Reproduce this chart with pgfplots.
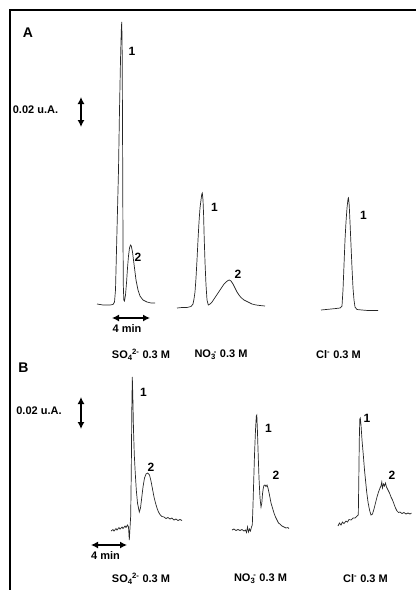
\documentclass[border=0pt]{standalone}
\usepackage{fontspec}
\setmainfont{Liberation Sans}
\usepackage{pgfplots}
\pgfplotsset{compat=1.18}
\usetikzlibrary{arrows.meta}
\begin{document}
\begin{tikzpicture}
\begin{axis}[width=416pt,height=590pt,scale only axis,
  xmin=0,xmax=416,ymin=0,ymax=590,y dir=reverse,hide axis,clip=false]
% frame
\addplot[black,line width=1.4pt] coordinates {(10,590)(10,10)(416,10)};
\pgfplotsset{every axis plot/.append style={}}
% ---------- A: SO4
\addplot[black!85,line width=0.7pt] coordinates {
(97,304)(103,305)(110,305)(113,304.5)(114.5,302)(115.5,290)(116.5,250)(117.5,210)(118.5,170)(119.5,110)(120.5,60)(121.3,30)(121.7,22)(122.1,40)(122.5,120)(122.9,220)(123.3,285)(123.8,300)(124.5,301)(125.5,295)(126.5,283)(127.5,268)(128.5,256)(129.5,248)(130.5,245)(131.3,246)(132.5,252)(134,264)(136,280)(138,290)(140,296)(143,300)(147,302)(151,303)(155,303)};
% ---------- A: NO3
\addplot[black!85,line width=0.7pt] coordinates {
(177,308)(182,307.5)(187,307.5)(191,306.5)(193,304)(194,299)(195,292)(196,278)(197,260)(198,240)(199,222)(200,208)(201,200)(201.8,194)(202.3,193)(203,200)(203.6,215)(204.2,238)(205,262)(206,285)(207,300)(208.3,305)(210,304)(212,302)(214,299)(216,296)(218,293)(220,290)(222,287)(224,284)(226,282)(228,280.5)(229.3,280)(231,281)(233,284)(235,288)(237,292)(239,295)(241,297.5)(244,300)(248,302)(252,304)(256,305)(260,305.5)(265,306)};
% ---------- A: Cl
\addplot[black!85,line width=0.7pt] coordinates {
(321,310)(326,309.5)(331,309)(336,308.5)(340,308)(342,306)(343,290)(344,265)(345,240)(346,222)(347,208)(348,199)(348.5,198)(349.2,205)(350,222)(351,245)(352,268)(353,288)(354,300)(355,307)(357,309.5)(362,310)(368,310.5)(374,310.5)(378,310.5)};
% ---------- B: SO4
\addplot[black!85,line width=0.7pt] coordinates {
(111,531)(113,529.5)(114,531)(116,528.5)(117,530)(119,527.5)(120,529)(122,527)(123,528.5)(125,526)(126,527.5)(127.5,525)(128.5,527)(129.3,540)(130,528)(130.7,516)(131.3,470)(131.8,410)(132.3,377)(132.8,395)(133.5,430)(134.3,455)(135.2,472)(136.3,490)(137.5,503)(139.3,512)(140.5,508)(141.7,498)(143,487)(144.5,478)(146,474)(147.7,473)(149.5,475)(151,481)(152.5,489)(154,497)(155.5,503)(157,508)(158.5,512)(160,514.5)(162,516.5)(164,517)(166,518.5)(168,517.5)(170,519)(172,518)(174,520)(176,519)(178,520.5)(180,519.5)(182,520.5)};
% ---------- B: NO3
\addplot[black!85,line width=0.7pt] coordinates {
(232,530)(234,529)(236,530.5)(238,529.5)(240,530.5)(242,529.5)(244,531)(245.5,530)(246.5,532.5)(247.5,527)(248.5,532)(249.5,529)(250.5,531)(251.5,527)(252.3,525)(253,505)(253.5,488)(254.5,455)(255.5,430)(256.3,416)(256.8,415)(257.4,430)(258.2,455)(259,478)(260,498)(261,507)(261.8,503)(262.5,494)(263.3,488)(264,485.5)(265,485)(266,486.5)(267,485)(268,488)(269.5,495)(271,503)(272.5,508)(274,513)(275.5,517)(277,520)(278.5,523)(280,524)(282,526)(284,527)(286,528)(288,527.5)(289,528.5)};
% ---------- B: Cl
\addplot[black!85,line width=0.7pt] coordinates {
(338,526)(339.5,523)(341,525)(342.5,522)(344,523.5)(346,521)(347.5,522)(349,519.5)(351,520)(353,518)(355,518)(357,516)(358.3,515)(358.8,480)(359.3,440)(359.8,419)(360.3,418)(361,425)(362,440)(363.3,455)(364.5,470)(365.7,482)(366.7,492)(368,502)(369.5,510)(371,515)(372.5,514)(374,509)(375.5,503)(377,497)(378.5,492)(380,488)(381,486)(381.8,482)(382.5,488)(383.5,484)(384.5,486)(385.5,483)(386.5,487)(388,490)(389.5,493)(391,497)(392.5,500)(394,504)(395.5,508)(397,511)(398.5,512.5)(400,512)(402,513.5)(404,512.5)(406,514)(408,513)(410,514)(411.5,513)};
% ---------- arrows
\addplot[black,line width=1.3pt,{Latex[length=7pt,width=7pt]}-{Latex[length=7pt,width=7pt]}] coordinates {(81,97)(81,127)};
\addplot[black,line width=1.3pt,{Latex[length=7pt,width=7pt]}-{Latex[length=7pt,width=7pt]}] coordinates {(81,397)(81,429)};
\addplot[black,line width=1.3pt,{Latex[length=7pt,width=7pt]}-{Latex[length=7pt,width=7pt]}] coordinates {(112,318)(150,318)};
\addplot[black,line width=1.3pt,{Latex[length=7pt,width=7pt]}-{Latex[length=7pt,width=7pt]}] coordinates {(91,545)(127,545)};
% ---------- text
\begin{scope}[every node/.style={font=\fontsize{11}{13}\selectfont\bfseries,inner sep=0pt}]
\node[font=\fontsize{14}{16}\selectfont\bfseries] at (axis cs:28,33) {A};
\node[font=\fontsize{14}{16}\selectfont\bfseries] at (axis cs:23.5,368) {B};
\node at (axis cs:35.5,109.5) {0.02 u.A.};
\node at (axis cs:39,411) {0.02 u.A.};
\node at (axis cs:127,329) {4 min};
\node at (axis cs:105.5,556) {4 min};
\node[font=\fontsize{12}{14}\selectfont\bfseries] at (axis cs:132,51) {1};
\node[font=\fontsize{12}{14}\selectfont\bfseries] at (axis cs:138,257) {2};
\node[font=\fontsize{12}{14}\selectfont\bfseries] at (axis cs:214.5,207) {1};
\node[font=\fontsize{12}{14}\selectfont\bfseries] at (axis cs:238,274) {2};
\node[font=\fontsize{12}{14}\selectfont\bfseries] at (axis cs:363.5,215) {1};
\node[font=\fontsize{12}{14}\selectfont\bfseries] at (axis cs:143.5,392) {1};
\node[font=\fontsize{12}{14}\selectfont\bfseries] at (axis cs:151,467) {2};
\node[font=\fontsize{12}{14}\selectfont\bfseries] at (axis cs:268.5,428) {1};
\node[font=\fontsize{12}{14}\selectfont\bfseries] at (axis cs:276,475) {2};
\node[font=\fontsize{12}{14}\selectfont\bfseries] at (axis cs:367,418.5) {1};
\node[font=\fontsize{12}{14}\selectfont\bfseries] at (axis cs:392,475) {2};
\node at (axis cs:141,355) {SO\textsubscript{4}\kern-0.5pt\textsuperscript{2-} 0.3 M};
\node at (axis cs:221,355) {NO\textsubscript{3}\kern-2pt\textsuperscript{-} 0.3 M};
\node at (axis cs:338.5,355) {Cl\textsuperscript{-} 0.3 M};
\node at (axis cs:141,578.5) {SO\textsubscript{4}\kern-0.5pt\textsuperscript{2-} 0.3 M};
\node at (axis cs:260.5,578.5) {NO\textsubscript{3}\kern-2pt\textsuperscript{-} 0.3 M};
\node at (axis cs:365.5,578.5) {Cl\textsuperscript{-} 0.3 M};
\end{scope}
\end{axis}
\pgfresetboundingbox
\path[use as bounding box] (current axis.south west) rectangle (current axis.north east);
\end{tikzpicture}
\end{document}
